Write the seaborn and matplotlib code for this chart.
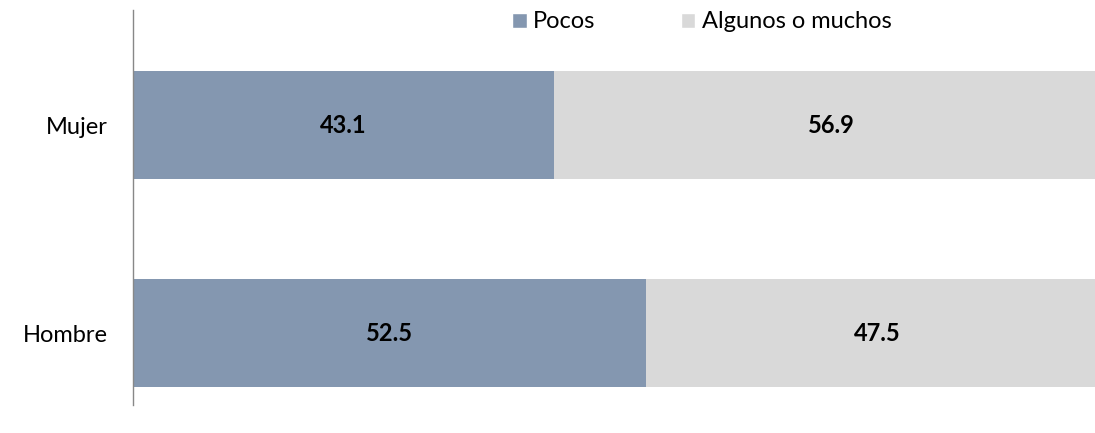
import matplotlib
matplotlib.use('Agg')
import matplotlib.pyplot as plt
import seaborn as sns
import pandas as pd
from matplotlib.patches import Patch

sns.set_style('white')
plt.rcParams['font.family'] = ['Lato', 'DejaVu Sans']
plt.rcParams['text.color'] = 'black'
plt.rcParams['ytick.color'] = 'black'

# Data
categories = ['Mujer', 'Hombre']
pocos = [43.1, 52.5]
algunos = [56.9, 47.5]

color_pocos = '#8497B0'
color_algunos = '#D9D9D9'

df = pd.DataFrame({'grupo': categories, 'pocos': pocos, 'algunos': algunos})
df['total'] = df['pocos'] + df['algunos']

fig = plt.figure(figsize=(10.95, 4.33), dpi=100)
ax = fig.add_axes([133 / 1095, 1 - 405 / 433, 1 - 133 / 1095, 395 / 433])

# stacked: full bar in grey, Pocos on top
sns.barplot(data=df, x='total', y='grupo', orient='h', color=color_algunos,
            width=0.515, ax=ax, saturation=1, linewidth=0)
sns.barplot(data=df, x='pocos', y='grupo', orient='h', color=color_pocos,
            width=0.515, ax=ax, saturation=1, linewidth=0)

# value labels
for i, (p, a) in enumerate(zip(pocos, algunos)):
    ax.text(p / 2, i, f'{p:.1f}', ha='center', va='center', fontsize=17, fontweight='bold')
    ax.text(p + a / 2, i, f'{a:.1f}', ha='center', va='center', fontsize=17, fontweight='bold')

# the bar runs past the right edge of the picture
ax.set_xlim(0, 98.5)
ax.set_ylim(1.346, -0.553)
ax.set_xlabel('')
ax.set_ylabel('')
ax.set_xticks([])
ax.tick_params(axis='y', length=0, pad=18, labelsize=17, labelcolor='black')

for s in ['top', 'right', 'bottom']:
    ax.spines[s].set_visible(False)
ax.spines['left'].set_color('#888888')
ax.spines['left'].set_linewidth(1)

handles = [Patch(facecolor=color_pocos, label='Pocos'),
           Patch(facecolor=color_algunos, label='Algunos o muchos')]
fig.legend(handles=handles, loc='center', bbox_to_anchor=(0.641, 1 - 22 / 433),
           ncol=2, frameon=False, fontsize=17, handlelength=0.62, handleheight=0.62,
           handletextpad=0.28, columnspacing=3.6, borderpad=0)

plt.savefig('out.png', dpi=100, facecolor='white')
plt.close()
